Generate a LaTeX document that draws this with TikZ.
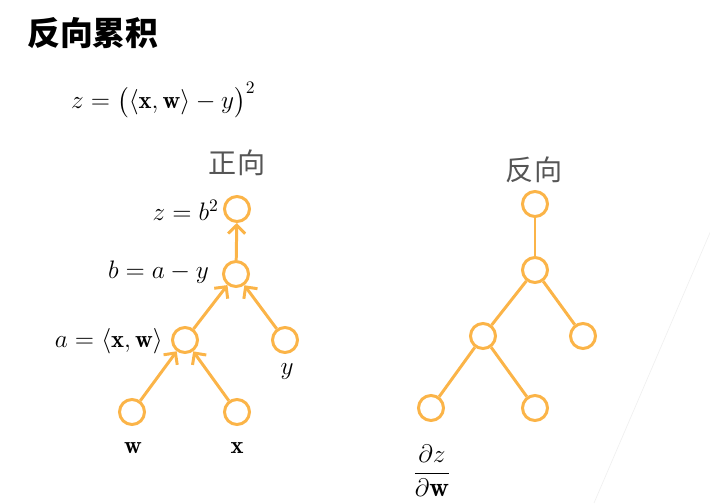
\documentclass[tikz,border=0pt]{standalone}
\usepackage{amsmath}
\usepackage{fontspec}
\newfontfamily\cjk{Noto Sans CJK SC}
\usetikzlibrary{arrows.meta}

\definecolor{nodeorange}{RGB}{251,180,72}
\definecolor{headgray}{RGB}{85,85,85}

\tikzset{
	unit/.style={circle, draw=nodeorange, line width=1.7pt, minimum size=0.5cm, inner sep=0pt},
	flow/.style={draw=nodeorange, line width=1.7pt, -{Straight Barb[length=1.7mm,width=3.4mm]}},
	back/.style={draw=nodeorange, line width=1.7pt},
	eq/.style={font=\fontsize{14}{16}\selectfont},
	head/.style={font=\cjk\fontsize{16}{18}\selectfont, text=headgray}
}

\begin{document}
\begin{tikzpicture}
	\useasboundingbox (0,0) rectangle (14.2,-10.06);

	% faint rule on the right
	\draw[gray!12, line width=0.4pt] (14.24,-4.56) -- (11.88,-10.06);

	\node[anchor=west, font=\cjk\bfseries\fontsize{18.7}{22}\selectfont] (title) at (0.42,-0.66) {反向累积};
	\node[anchor=west, font=\fontsize{14}{16}\selectfont] (loss) at (1.30,-2.0) {$z=\bigl(\langle\mathbf{x},\mathbf{w}\rangle-y\bigr)^2$};

	% forward
	\node[head] (fwd) at (4.74,-3.26) {正向};
	\node[unit] (z) at (4.74,-4.18) {};
	\node[unit] (b) at (4.72,-5.48) {};
	\node[unit] (a) at (3.70,-6.80) {};
	\node[unit] (y) at (5.70,-6.80) {};
	\node[unit] (w) at (2.64,-8.24) {};
	\node[unit] (x) at (4.74,-8.24) {};

	\node[eq, anchor=east] (zlab) at (4.50,-4.20) {$z=b^2$};
	\node[eq, anchor=east] (blab) at (4.30,-5.44) {$b=a-y$};
	\node[eq, anchor=east] (alab) at (3.38,-6.82) {$a=\langle\mathbf{x},\mathbf{w}\rangle$};
	\node[eq] (ylab) at (5.74,-7.42) {$y$};
	\node[eq] (wlab) at (2.66,-8.96) {$\mathbf{w}$};
	\node[eq] (xlab) at (4.74,-8.96) {$\mathbf{x}$};

	\draw[flow] (b) -- (z);
	\draw[flow] (a) -- (b);
	\draw[flow] (y) -- (b);
	\draw[flow] (w) -- (a);
	\draw[flow] (x) -- (a);

	% backward
	\node[head] (bwd) at (10.68,-3.40) {反向};
	\node[unit] (rz) at (10.70,-4.08) {};
	\node[unit] (rb) at (10.70,-5.40) {};
	\node[unit] (ra) at (9.66,-6.72) {};
	\node[unit] (ry) at (11.66,-6.72) {};
	\node[unit] (rw) at (8.62,-8.16) {};
	\node[unit] (rx) at (10.70,-8.16) {};

	\node[font=\fontsize{15.5}{18}\selectfont] (grad) at (8.64,-9.42) {$\dfrac{\partial z}{\partial\mathbf{w}}$};

	\draw[back] (rz) -- (rb);
	\draw[back] (rb) -- (ra);
	\draw[back] (rb) -- (ry);
	\draw[back] (ra) -- (rw);
	\draw[back] (ra) -- (rx);
\end{tikzpicture}
\end{document}
